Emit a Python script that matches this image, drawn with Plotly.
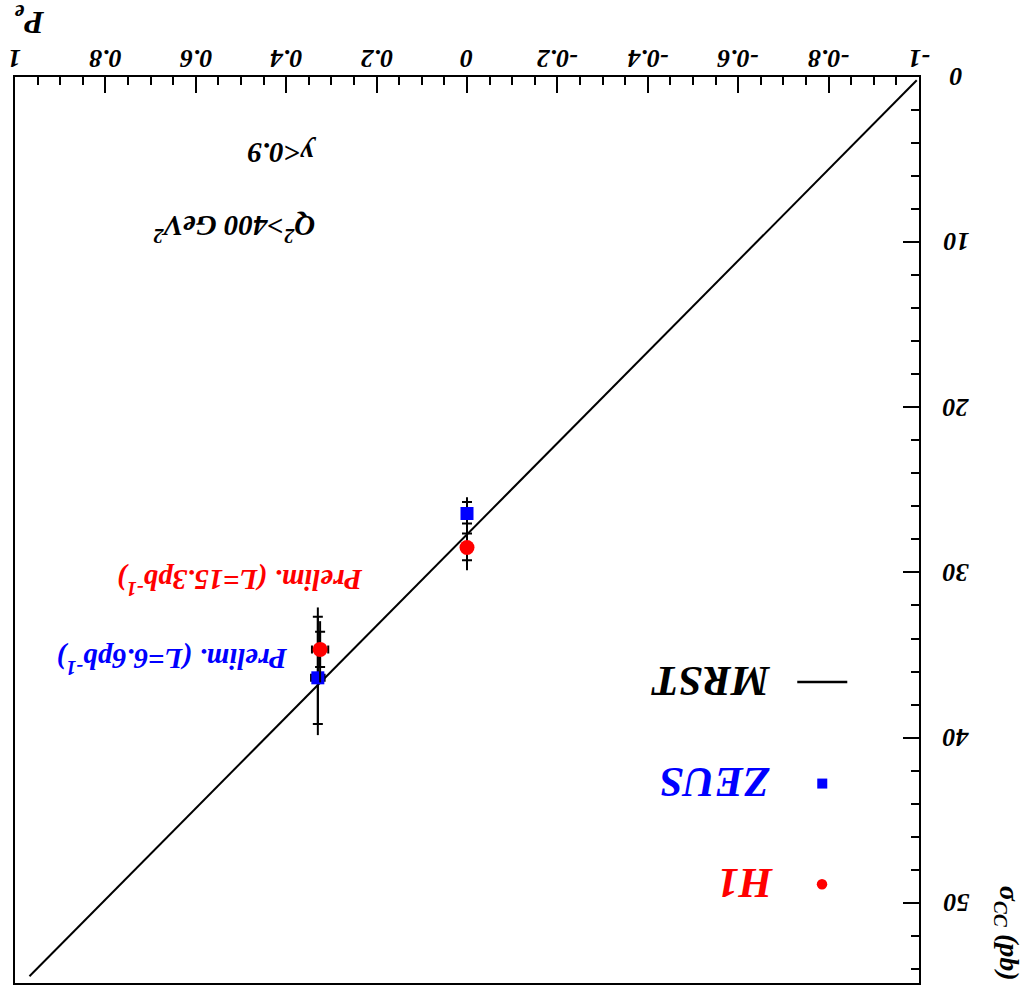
import plotly.graph_objects as go

# ---- data -------------------------------------------------------------
# MRST prediction (straight line in P_e)
mrst_pe = [-0.995, 0.968]
mrst_sigma = [0.2, 54.45]

# ZEUS
zeus_pe = [0.0, 0.33]
zeus_sigma = [26.43, 36.38]
zeus_stat_minus = [0.70, 3.69]
zeus_stat_plus = [0.60, 2.80]
zeus_tot_minus = [0.99, 4.26]
zeus_tot_plus = [0.99, 3.47]
zeus_pe_err = [0.0, 0.015]

# H1
h1_pe = [0.0, 0.325]
h1_sigma = [28.49, 34.66]
h1_stat_minus = [0.85, 1.07]
h1_stat_plus = [0.77, 1.07]
h1_tot_minus = [1.37, 1.71]
h1_tot_plus = [1.37, 2.0]
h1_pe_err = [0.0, 0.018]

x_tickvals = [1, 0.8, 0.6, 0.4, 0.2, 0, -0.2, -0.4, -0.6, -0.8, -1]
x_ticktext = ["1", "0.8", "0.6", "0.4", "0.2", "0", "-0.2", "-0.4", "-0.6", "-0.8", "-1"]
y_tickvals = [0, 10, 20, 30, 40, 50]
y_ticktext = ["0", "10", "20", "30", "40", "50"]

# ---- geometry ---------------------------------------------------------
W, H = 1027, 993
L, R, T, B = 15, 918.7, 76.7, 983.0


def px(x):
    return (x - L) / (R - L)


def py(y):
    return 1 - (y - T) / (B - T)


FONT = "Liberation Serif"
RED = "#ff0000"
BLUE = "#0000ff"


def fnt(size, color="black"):
    return dict(family=FONT, size=size, color=color, weight="bold", style="italic")


fig = go.Figure()

# MRST curve
fig.add_trace(go.Scatter(x=mrst_pe, y=mrst_sigma, mode="lines",
                         line=dict(color="black", width=2), showlegend=False,
                         hoverinfo="skip"))


def add_experiment(pe, sig, tm, tp, sm, sp, pe_err, color, symbol, size):
    # total uncertainty: plain bar
    fig.add_trace(go.Scatter(
        x=pe, y=sig, mode="markers", marker=dict(size=1, opacity=0),
        error_y=dict(type="data", symmetric=False, array=tp, arrayminus=tm,
                     color="black", thickness=2, width=0),
        showlegend=False, hoverinfo="skip"))
    # statistical uncertainty: bar with end ticks
    fig.add_trace(go.Scatter(
        x=pe, y=sig, mode="markers", marker=dict(size=1, opacity=0),
        error_y=dict(type="data", symmetric=False, array=sp, arrayminus=sm,
                     color="black", thickness=2, width=5),
        showlegend=False, hoverinfo="skip"))
    # points with polarisation uncertainty
    fig.add_trace(go.Scatter(
        x=pe, y=sig, mode="markers",
        marker=dict(color=color, symbol=symbol, size=size, line=dict(width=0)),
        error_x=dict(type="data", array=pe_err, color="black", thickness=2, width=4),
        showlegend=False))


add_experiment(zeus_pe, zeus_sigma, zeus_tot_minus, zeus_tot_plus,
               zeus_stat_minus, zeus_stat_plus, zeus_pe_err, BLUE, "square", 13)
add_experiment(h1_pe, h1_sigma, h1_tot_minus, h1_tot_plus,
               h1_stat_minus, h1_stat_plus, h1_pe_err, RED, "circle", 15)

annotations = []


def text(s, x, y, size, color="black", angle=180, xanchor="center"):
    annotations.append(dict(text=s, x=px(x), y=py(y), xref="paper", yref="paper",
                            showarrow=False, textangle=angle, font=fnt(size, color),
                            xanchor=xanchor, yanchor="middle"))


# upside-down tick labels placed on the axis scales
for v, t in zip(x_tickvals, x_ticktext):
    annotations.append(dict(text=t, x=v, xref="x", y=py(58), yref="paper",
                            showarrow=False, textangle=180, font=fnt(26),
                            xanchor="center", yanchor="middle"))
for v, t in zip(y_tickvals, y_ticktext):
    annotations.append(dict(text=t, x=px(956), xref="paper", y=v, yref="y",
                            showarrow=False, textangle=180, font=fnt(26),
                            xanchor="center", yanchor="middle"))

# labels inside the frame
text("Prelim. (L=15.3pb<sup>-1</sup>)", 240, 582, 29, RED)
text("Prelim. (L=6.6pb<sup>-1</sup>)", 172, 661, 29, BLUE)
text("Q<sup>2</sup>>400 GeV<sup>2</sup>", 234, 228, 29)
text("y<0.9", 282, 152, 29)

# legend
text("MRST", 710, 682, 43)
text("ZEUS", 715, 783, 43, BLUE)
text("H1", 745, 884, 43, RED)

# axis titles
text("P<sub>e</sub>", 30, 20, 32)
text("σ<sub>CC</sub> (pb)", 1008, 933, 28, angle=90)

shapes = [
    dict(type="line", xref="paper", yref="paper", x0=px(797), x1=px(847),
         y0=py(682), y1=py(682), line=dict(color="black", width=2.5)),
    dict(type="rect", xref="paper", yref="paper", x0=px(817), x1=px(827),
         y0=py(778.5), y1=py(788.5), fillcolor=BLUE, line=dict(width=0)),
    dict(type="circle", xref="paper", yref="paper", x0=px(816.5), x1=px(827),
         y0=py(879), y1=py(889.5), fillcolor=RED, line=dict(width=0)),
]

fig.update_layout(
    width=W, height=H,
    margin=dict(l=L, r=W - R, t=T, b=H - B, pad=0),
    plot_bgcolor="white", paper_bgcolor="white",
    annotations=annotations, shapes=shapes, showlegend=False,
    xaxis=dict(range=[1, -1], side="top", showgrid=False, zeroline=False,
               automargin=False, showticklabels=False,
               showline=True, linecolor="black", linewidth=2, mirror=True,
               ticks="inside", ticklen=16, tickwidth=2, tickcolor="black",
               tickmode="array", tickvals=x_tickvals,
               minor=dict(ticks="inside", ticklen=8, tickwidth=2,
                          tickcolor="black", dtick=0.05, tick0=0)),
    yaxis=dict(range=[54.86, 0], side="right", showgrid=False, zeroline=False,
               automargin=False, showticklabels=False,
               showline=True, linecolor="black", linewidth=2, mirror=True,
               ticks="inside", ticklen=16, tickwidth=2, tickcolor="black",
               tickmode="array", tickvals=y_tickvals,
               minor=dict(ticks="inside", ticklen=8, tickwidth=2,
                          tickcolor="black", dtick=2, tick0=0)),
)

fig.write_html("out.html")
